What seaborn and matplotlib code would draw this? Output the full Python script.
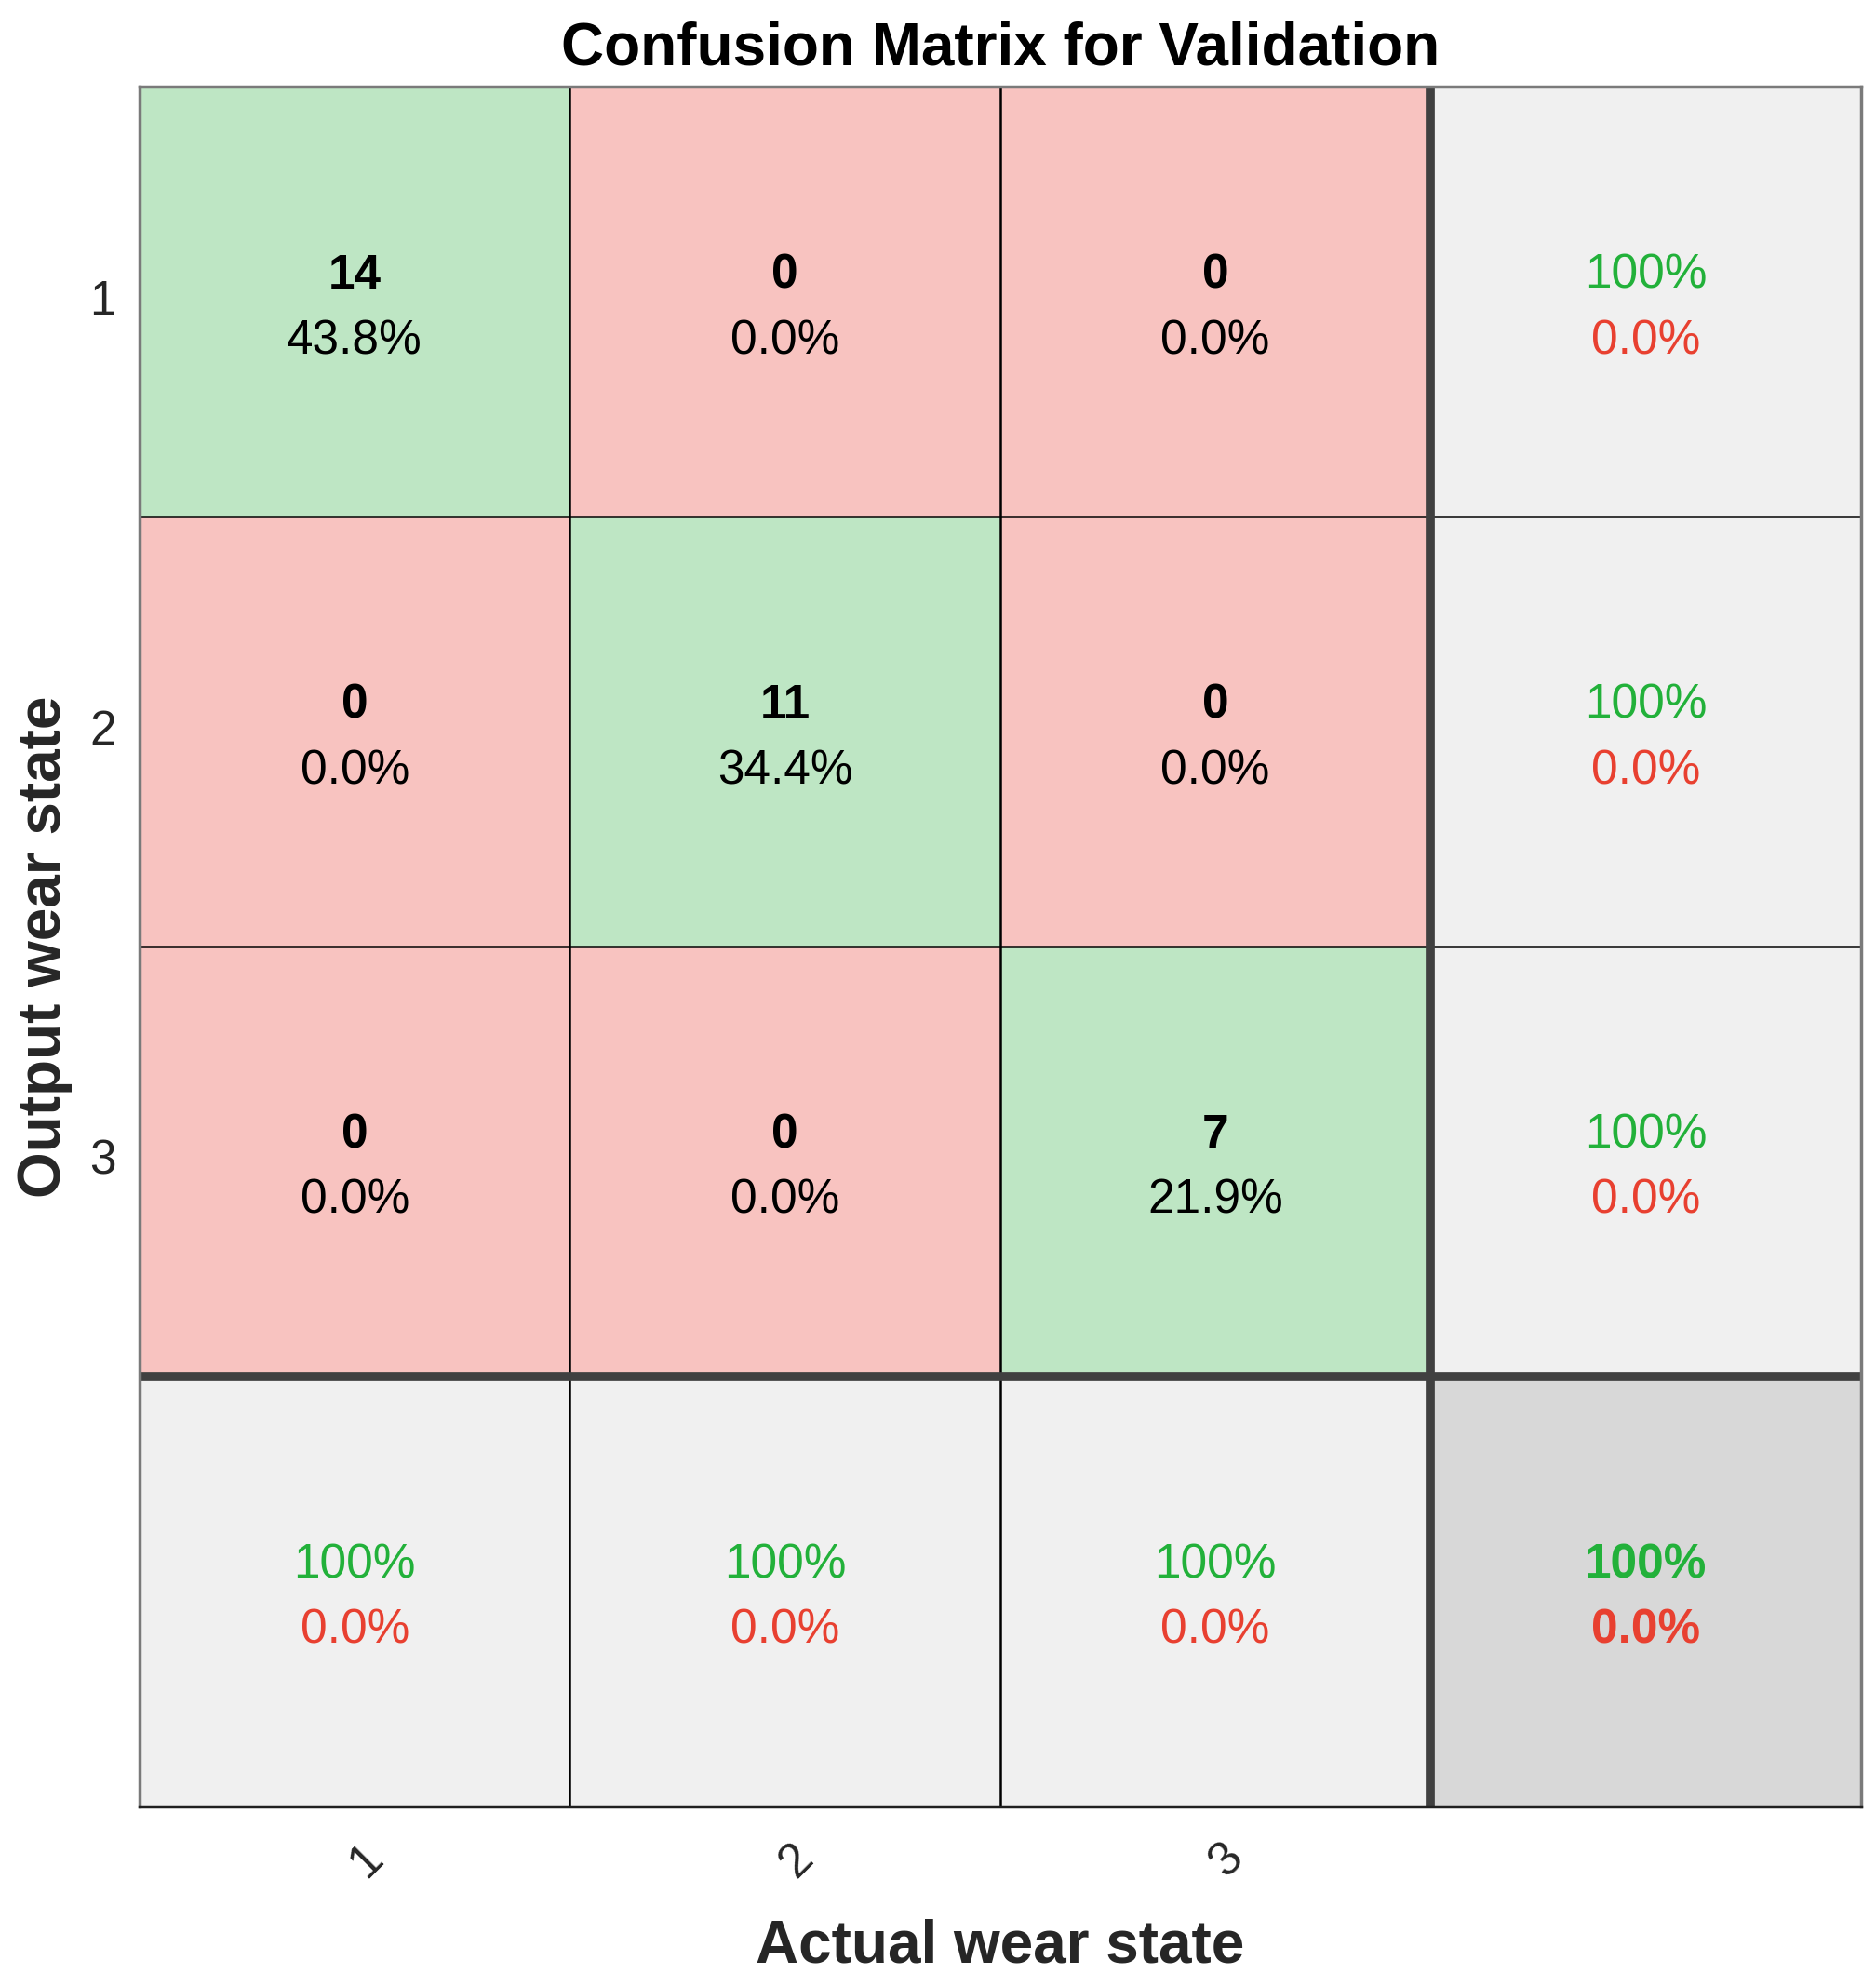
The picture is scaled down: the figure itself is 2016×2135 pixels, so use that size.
import numpy as np
import matplotlib
matplotlib.use("Agg")
import matplotlib.pyplot as plt
import matplotlib.transforms as mtransforms
import seaborn as sns
from matplotlib.colors import ListedColormap

# ---- data ----
classes = ["1", "2", "3"]
counts = np.array([[14, 0, 0],
                   [0, 11, 0],
                   [0, 0, 7]])
title = "Confusion Matrix for Validation"
xlabel = "Actual wear state"
ylabel = "Output wear state"

# ---- colours ----
c_green = "#BEE6C4"
c_red = "#F8C3C0"
c_gray = "#F0F0F0"
c_corner = "#D8D8D8"
t_green = "#22B13A"
t_red = "#E84030"

sns.set_theme(style="white")
plt.rcParams['font.family'] = ['Liberation Sans', 'DejaVu Sans']

n = len(classes)
total = counts.sum()
codes = np.zeros((n + 1, n + 1))
for i in range(n):
    for j in range(n):
        codes[i, j] = 0 if i == j else 1
codes[n, :n] = 2
codes[:n, n] = 2
codes[n, n] = 3
cmap = ListedColormap([c_green, c_red, c_gray, c_corner])

fig = plt.figure(figsize=(20.16, 21.35), dpi=100)
ax = fig.add_axes([0.0744, 0.0909, 0.9176, 0.8655])
sns.heatmap(codes, cmap=cmap, vmin=-0.5, vmax=3.5, cbar=False, ax=ax,
            xticklabels=classes + [""], yticklabels=classes + [""])

def fmt(p):
    return "100%" if abs(p - 100) < 1e-9 else f"{p:.1f}%"

fs = 37
dy = 0.076
off = 0.016
for i in range(n):
    for j in range(n):
        ax.text(j + 0.5, i + 0.5 + off - dy, str(counts[i, j]), ha='center', va='center',
                fontsize=fs, fontweight='bold', color='black')
        ax.text(j + 0.5, i + 0.5 + off + dy, fmt(100 * counts[i, j] / total), ha='center',
                va='center', fontsize=fs, color='black')
# row summaries (precision)
for i in range(n):
    rs = counts[i, :].sum()
    p = 100 * counts[i, i] / rs if rs else 0
    ax.text(n + 0.5, i + 0.5 + off - dy, fmt(p), ha='center', va='center', fontsize=fs, color=t_green)
    ax.text(n + 0.5, i + 0.5 + off + dy, fmt(100 - p), ha='center', va='center', fontsize=fs, color=t_red)
# column summaries (recall)
for j in range(n):
    cs = counts[:, j].sum()
    p = 100 * counts[j, j] / cs if cs else 0
    ax.text(j + 0.5, n + 0.5 + off - dy, fmt(p), ha='center', va='center', fontsize=fs, color=t_green)
    ax.text(j + 0.5, n + 0.5 + off + dy, fmt(100 - p), ha='center', va='center', fontsize=fs, color=t_red)
acc = 100 * np.trace(counts) / total
ax.text(n + 0.5, n + 0.5 + off - dy, fmt(acc), ha='center', va='center', fontsize=fs,
        fontweight='bold', color=t_green)
ax.text(n + 0.5, n + 0.5 + off + dy, fmt(100 - acc), ha='center', va='center', fontsize=fs,
        fontweight='bold', color=t_red)

# grid lines
for k in range(1, n):
    ax.axhline(k, color='black', lw=1.8, zorder=3)
    ax.axvline(k, color='black', lw=1.8, zorder=3)
ax.axhline(n, color='#404040', lw=7, zorder=4)
ax.axvline(n, color='#404040', lw=7, zorder=4)

for side, sp in ax.spines.items():
    sp.set_visible(True)
    sp.set_linewidth(2.5)
    sp.set_color('#7a7a7a')
    sp.set_zorder(5)
ax.spines['bottom'].set_color('#202020')

ax.tick_params(axis='both', length=0, labelsize=37, colors='#262626')
ax.tick_params(axis='y', pad=18)
ax.tick_params(axis='x', pad=22)
plt.setp(ax.get_yticklabels(), rotation=0)
shift = mtransforms.ScaledTranslation(12 / 100, 0, fig.dpi_scale_trans)
for lab in ax.get_xticklabels():
    lab.set_rotation(45)
    lab.set_ha('center')
    lab.set_va('top')
    lab.set_transform(lab.get_transform() + shift)

ax.set_title(title, fontsize=46, fontweight='bold', pad=17, color='black')
ax.set_xlabel(xlabel, fontsize=46, fontweight='bold', labelpad=25, color='#262626')
ax.set_ylabel(ylabel, fontsize=46, fontweight='bold', labelpad=13, color='#262626')

fig.savefig("out.png", dpi=100)
